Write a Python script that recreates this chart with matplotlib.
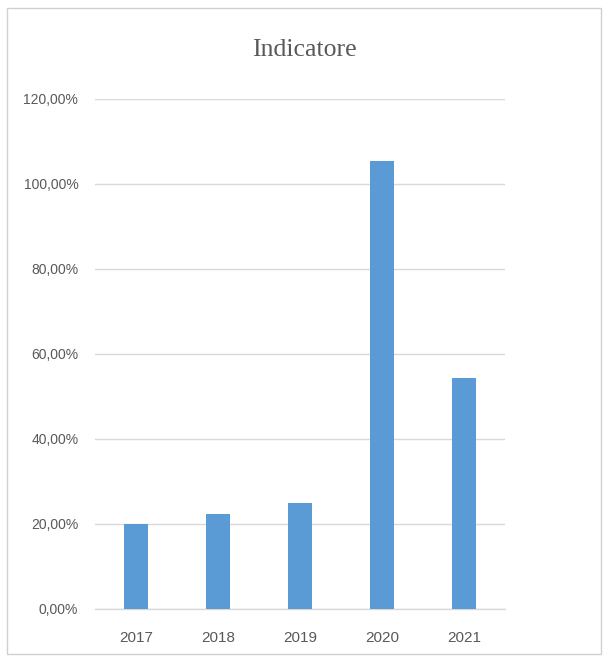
import matplotlib
matplotlib.use("Agg")
import matplotlib.pyplot as plt
from matplotlib.patches import Rectangle
from matplotlib.ticker import FuncFormatter, MultipleLocator

# Indicator values per year (fractions)
years = ["2017", "2018", "2019", "2020", "2021"]
values = [0.200, 0.223, 0.250, 1.053, 0.544]

title = "Indicatore"
bar_color = "#5b9bd5"
grid_color = "#d9d9d9"
text_color = "#595959"

fig = plt.figure(figsize=(6.09, 6.63), dpi=100)
fig.patch.set_facecolor("white")

# Chart frame
fig.patches.append(Rectangle((7 / 609, 1 - 654 / 663), 594 / 609, 646 / 663,
                             transform=fig.transFigure, fill=False,
                             edgecolor="#d0d0d0", linewidth=1.0))

ax = fig.add_axes([95 / 609, 1 - 609 / 663, 410 / 609, (609 - 98.7) / 663])
x = range(len(years))
ax.bar(x, values, width=0.3, color=bar_color, zorder=3)

ax.set_xlim(-0.5, len(years) - 0.5)
ax.set_ylim(0, 1.2)
ax.yaxis.set_major_locator(MultipleLocator(0.2))
ax.yaxis.set_major_formatter(FuncFormatter(
    lambda v, _: f"{v * 100:.2f}%".replace(".", ",")))
ax.set_xticks(list(x))
ax.set_xticklabels(years)

ax.grid(axis="y", color=grid_color, linewidth=1.0, zorder=0)
for side in ("top", "right", "left"):
    ax.spines[side].set_visible(False)
ax.spines["bottom"].set_color(grid_color)
ax.spines["bottom"].set_linewidth(1.0)
ax.tick_params(axis="both", length=0, colors=text_color)
ax.tick_params(axis="y", pad=12, labelsize=10)
ax.tick_params(axis="x", pad=16, labelsize=11)
for lbl in ax.get_xticklabels() + ax.get_yticklabels():
    lbl.set_fontfamily(["Liberation Sans", "DejaVu Sans"])

fig.text(0.5, 1 - 50 / 663, title, ha="center", va="center",
         fontsize=18.5, family="Liberation Serif", color=text_color)

fig.savefig("out.png", dpi=100, facecolor="white")
